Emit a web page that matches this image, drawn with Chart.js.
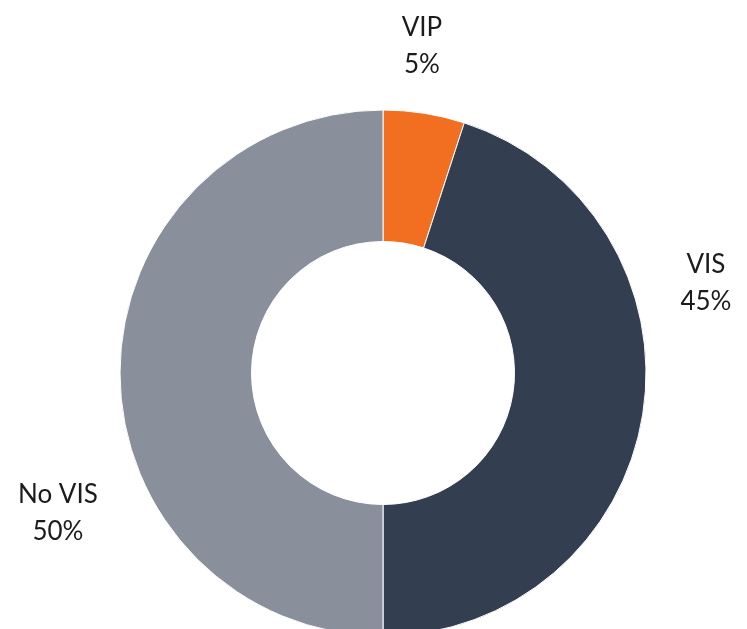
<!DOCTYPE html>
<html>
<head>
<meta charset="utf-8">
<script src="https://cdn.jsdelivr.net/npm/chart.js@4"></script>
<style>
  html, body { margin: 0; padding: 0; background: #fff; overflow: hidden; }
  #wrap { width: 747px; height: 640px; position: relative; }
</style>
</head>
<body>
<div id="wrap"><canvas id="chart"></canvas></div>
<script>
// Visa status breakdown
const categories = ['VIP', 'VIS', 'No VIS'];
const shares = [5, 45, 50];
const sliceColors = ['#F26F22', '#333E51', '#89909C'];

// Draws each slice's name and percentage outside the ring
const outerLabels = {
  id: 'outerLabels',
  afterDatasetsDraw(chart, args, opts) {
    const ctx = chart.ctx;
    const meta = chart.getDatasetMeta(0);
    ctx.save();
    ctx.font = opts.font;
    ctx.fillStyle = opts.color;
    ctx.textAlign = 'center';
    ctx.textBaseline = 'middle';
    meta.data.forEach((arc, i) => {
      const r = arc.outerRadius;
      const off = opts.offsets[i];
      const cx = arc.x + off[0] * r;
      const cy = arc.y + off[1] * r;
      const value = chart.data.datasets[0].data[i];
      ctx.fillText(chart.data.labels[i], cx, cy - opts.lineGap / 2);
      ctx.fillText(value + '%', cx, cy + opts.lineGap / 2);
    });
    ctx.restore();
  }
};

new Chart(document.getElementById('chart'), {
  type: 'doughnut',
  data: {
    labels: categories,
    datasets: [{
      data: shares,
      backgroundColor: sliceColors,
      borderColor: '#ffffff',
      borderWidth: 1
    }]
  },
  options: {
    responsive: true,
    maintainAspectRatio: false,
    animation: false,
    cutout: '50%',
    layout: { padding: { left: 119.5, right: 100.5, top: 109.5, bottom: 3.5 } },
    plugins: {
      legend: { display: false },
      tooltip: { enabled: false },
      outerLabels: {
        font: '26px Lato',
        color: '#1b1b1b',
        lineGap: 37,
        offsets: [[0.148, -1.243], [1.228, -0.342], [-1.236, 0.532]]
      }
    }
  },
  plugins: [outerLabels]
});
</script>
</body>
</html>
